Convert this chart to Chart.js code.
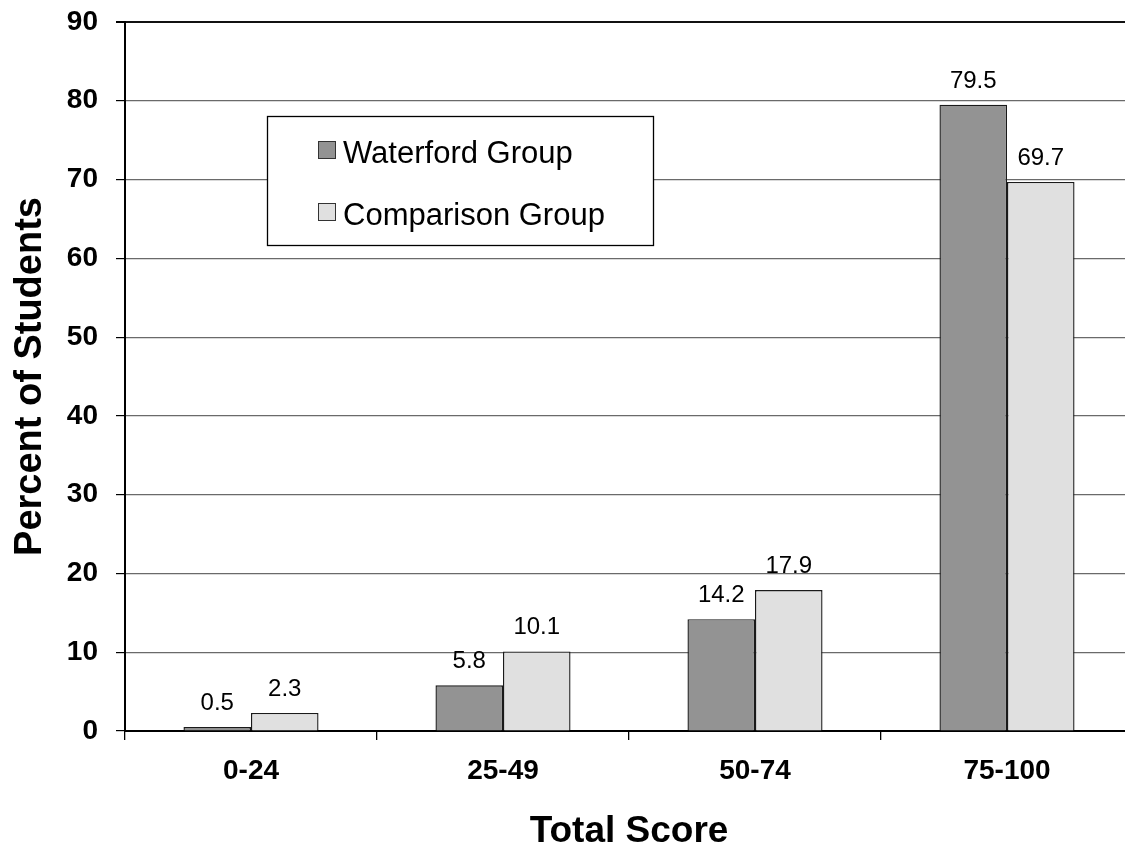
<!DOCTYPE html>
<html>
<head>
<meta charset="utf-8">
<title>Percent of Students by Total Score</title>
<script src="https://cdn.jsdelivr.net/npm/chart.js@4"></script>
<style>
  html, body { margin: 0; padding: 0; background: #fff; overflow: hidden; }
  #wrap { width: 1125px; height: 850px; overflow: hidden; }
  canvas { display: block; }
</style>
</head>
<body>
<div id="wrap"><canvas id="chart" width="1140" height="850"></canvas></div>
<script>
// Score bands and the share of students in each band
const categories = ['0-24', '25-49', '50-74', '75-100'];
const waterford = [0.5, 5.8, 14.2, 79.5];
const comparison = [2.3, 10.1, 17.9, 69.7];
const seriesNames = ['Waterford Group', 'Comparison Group'];
const yMin = 0;
const yMax = 90;
const yStep = 10;

const FONT = '"Liberation Sans", Arial, Helvetica, sans-serif';
Chart.defaults.font.family = FONT;
Chart.defaults.color = '#000';

// Value labels above every bar
const valueLabels = {
  id: 'valueLabels',
  afterDatasetsDraw(chart) {
    const ctx = chart.ctx;
    ctx.save();
    ctx.font = '24px ' + FONT;
    ctx.fillStyle = '#000';
    ctx.textAlign = 'center';
    ctx.textBaseline = 'alphabetic';
    chart.data.datasets.forEach((ds, di) => {
      const meta = chart.getDatasetMeta(di);
      meta.data.forEach((bar, i) => {
        ctx.fillText(ds.data[i].toFixed(1), bar.x, bar.y - 17);
      });
    });
    ctx.restore();
  }
};

// Boxed legend inside the plot area
const boxLegend = {
  id: 'boxLegend',
  afterDraw(chart) {
    const ctx = chart.ctx;
    const bx = 267.5, by = 116.5, bw = 386, bh = 129;
    ctx.save();
    ctx.fillStyle = '#fff';
    ctx.fillRect(bx, by, bw, bh);
    ctx.strokeStyle = '#000';
    ctx.lineWidth = 1.3;
    ctx.strokeRect(bx, by, bw, bh);
    ctx.font = '31px ' + FONT;
    ctx.textAlign = 'left';
    ctx.textBaseline = 'alphabetic';
    const rows = [163, 225];
    chart.data.datasets.forEach((ds, i) => {
      const base = rows[i];
      ctx.fillStyle = ds.backgroundColor;
      ctx.fillRect(318.5, base - 21.5, 17, 17);
      ctx.strokeStyle = '#333';
      ctx.lineWidth = 1;
      ctx.strokeRect(318.5, base - 21.5, 17, 17);
      ctx.fillStyle = '#000';
      ctx.fillText(ds.label, 343, base);
    });
    ctx.restore();
  }
};

new Chart(document.getElementById('chart'), {
  type: 'bar',
  data: {
    labels: categories,
    datasets: [
      {
        label: seriesNames[0],
        data: waterford,
        backgroundColor: '#939393',
        borderColor: '#1a1a1a',
        borderWidth: 1.4,
        borderSkipped: 'bottom'
      },
      {
        label: seriesNames[1],
        data: comparison,
        backgroundColor: '#e0e0e0',
        borderColor: '#1a1a1a',
        borderWidth: 1.4,
        borderSkipped: 'bottom'
      }
    ]
  },
  options: {
    responsive: false,
    animation: false,
    devicePixelRatio: 1,
    categoryPercentage: 0.536,
    barPercentage: 1,
    layout: {
      autoPadding: false,
      padding: { top: 22, right: 7, bottom: 0, left: 0 }
    },
    plugins: {
      legend: { display: false },
      tooltip: { enabled: false }
    },
    scales: {
      x: {
        afterFit(scale) {
          scale.height = 119;
          scale.paddingLeft = 0;
          scale.paddingRight = 0;
        },
        grid: {
          display: true,
          offset: true,
          drawOnChartArea: false,
          drawTicks: true,
          tickLength: 9,
          color: '#000',
          tickColor: '#000',
          lineWidth: 1.3
        },
        border: { display: true, color: '#000', width: 2 },
        ticks: {
          font: { size: 28, weight: 'bold' },
          color: '#000',
          padding: 14,
          maxRotation: 0
        },
        title: {
          display: true,
          text: 'Total Score',
          font: { size: 37, weight: 'bold', lineHeight: 1 },
          color: '#000',
          padding: { top: 0, bottom: 0 }
        }
      },
      y: {
        min: yMin,
        max: yMax,
        afterFit(scale) {
          scale.width = 125;
          scale.paddingTop = 0;
          scale.paddingBottom = 0;
        },
        grid: {
          drawTicks: true,
          tickLength: 9,
          color: (c) => c.tick && c.tick.value === yMax ? '#111' : '#6a6a6a',
          lineWidth: (c) => c.tick && c.tick.value === yMax ? 2 : 1.2,
          tickColor: '#000'
        },
        border: { display: true, color: '#000', width: 2 },
        ticks: {
          stepSize: yStep,
          font: { size: 28, weight: 'bold' },
          color: '#000',
          padding: 18
        },
        title: {
          display: true,
          text: 'Percent of Students',
          font: { size: 38, weight: 'bold', lineHeight: 1 },
          color: '#000',
          padding: { top: 12, bottom: 0 }
        }
      }
    }
  },
  plugins: [valueLabels, boxLegend]
});
</script>
</body>
</html>
